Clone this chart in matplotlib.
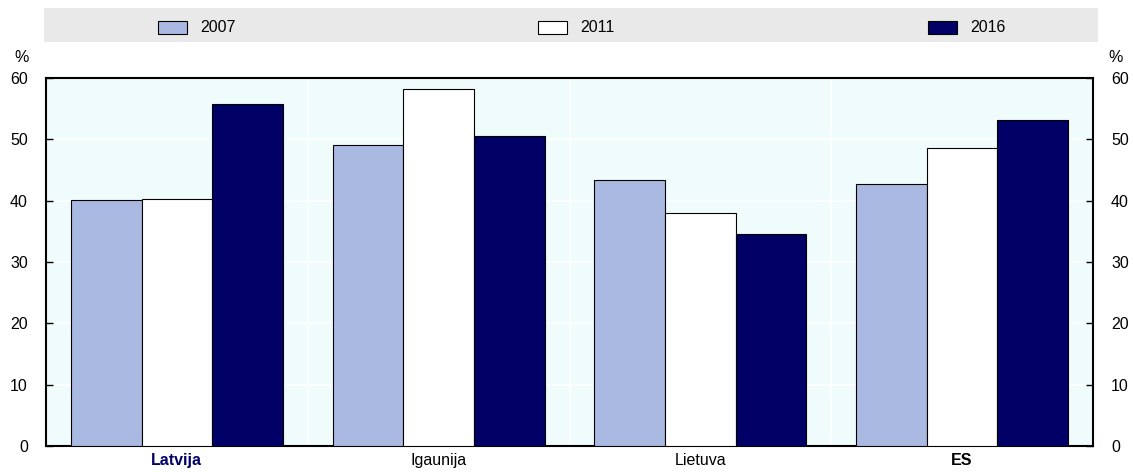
import matplotlib
matplotlib.use("Agg")
from matplotlib import pyplot as plt
from matplotlib.patches import Rectangle
import numpy as np

plt.rcParams['font.family'] = ['Liberation Sans', 'DejaVu Sans']

countries = ['Latvija', 'Igaunija', 'Lietuva', 'ES']
years = ['2007', '2011', '2016']
v2007 = [40.1, 49.1, 43.4, 42.7]
v2011 = [40.3, 58.2, 38.0, 48.6]
v2016 = [55.8, 50.5, 34.6, 53.2]
colors = ['#A9B9E1', '#FFFFFF', '#000066']

fs = 11.5

fig = plt.figure(figsize=(11.33, 4.72), dpi=100)
ax = fig.add_axes([46/1133, 1 - 446/472, 1047/1133, 368/472])
ax.set_facecolor('#F0FCFC')

x = np.arange(len(countries))
w = 0.27
for i, (vals, c) in enumerate(zip([v2007, v2011, v2016], colors)):
    ax.bar(x + (i - 1) * w, vals, w, color=c, edgecolor='black', linewidth=0.8,
           label=years[i], zorder=3)

ax.set_xlim(-0.5, 3.5)
ax.set_ylim(0, 60)
ax.set_yticks(range(0, 61, 10))
ax.yaxis.grid(True, color='white', linewidth=1.2, zorder=0)
for b in [0.5, 1.5, 2.5]:
    ax.axvline(b, color='white', linewidth=1.2, zorder=0)
ax.set_xticks(x)
ax.set_xticklabels(countries, fontsize=fs)
ax.tick_params(axis='x', length=0, pad=5)
ax.tick_params(axis='y', direction='in', length=5, labelsize=fs, right=True,
               labelright=True, width=1, pad=13)
for s in ax.spines.values():
    s.set_linewidth(1.5)
lbls = ax.get_xticklabels()
lbls[0].set_fontweight('bold')
lbls[0].set_color('#000066')
lbls[3].set_fontweight('bold')

fig.text(22/1133, 1 - 57/472, '%', fontsize=fs, ha='center', va='center')
fig.text(1116/1133, 1 - 57/472, '%', fontsize=fs, ha='center', va='center')

# legend band
fig.patches.append(Rectangle((44/1133, 1 - 42/472), 1054/1133, 34/472,
                             transform=fig.transFigure, facecolor='#E9E9E9',
                             edgecolor='none', zorder=0))
pos = [158, 538, 928]
for p, yr, c in zip(pos, years, colors):
    fig.patches.append(Rectangle((p/1133, 1 - 34/472), 29/1133, 13/472,
                                 transform=fig.transFigure, facecolor=c,
                                 edgecolor='black', linewidth=0.8, zorder=2))
    fig.text((p + 42)/1133, 1 - 28/472, yr, fontsize=fs, va='center', ha='left')

plt.savefig('out.png', dpi=100)
